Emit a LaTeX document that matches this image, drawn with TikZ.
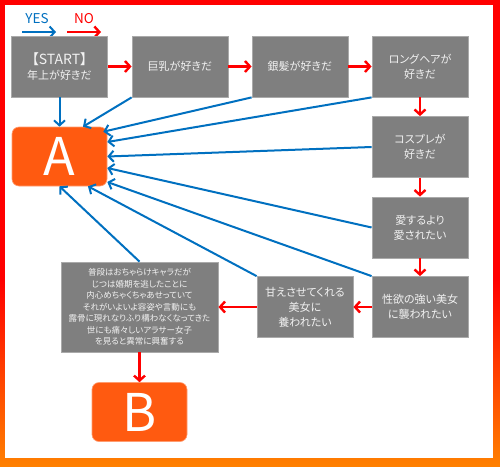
\documentclass[tikz,border=0pt]{standalone}
\usepackage{fontspec}
\setmainfont{Noto Sans CJK JP}[RawFeature=+palt]
\usetikzlibrary{arrows.meta}
\definecolor{boxgray}{RGB}{127,127,127}
\definecolor{boxedge}{RGB}{170,170,170}
\definecolor{boxtext}{RGB}{242,242,242}
\definecolor{yesblue}{RGB}{0,112,192}
\definecolor{nored}{RGB}{255,0,0}
\definecolor{endorange}{RGB}{255,90,16}
\definecolor{frameorange}{RGB}{255,128,0}
\pgfdeclareverticalshading{frameshade}{100bp}{color(0bp)=(frameorange); color(25bp)=(frameorange); color(45bp)=(nored); color(100bp)=(nored)}
\tikzstyle{question} = [draw=boxedge, line width=0.8pt, fill=boxgray, text=boxtext, minimum width=96pt, minimum height=61pt, inner sep=2pt, align=center, font=\fontsize{11}{15}\selectfont]
\tikzstyle{answer}   = [draw=endorange!60!white, line width=0.6pt, fill=endorange, rounded corners=7pt, minimum width=95pt, minimum height=59pt, text=white, font=\fontsize{52}{52}\selectfont]
\tikzstyle{yesedge}  = [line width=2pt, draw=yesblue, -{Straight Barb[length=5pt,width=11pt]}]
\tikzstyle{noedge}   = [line width=2.4pt, draw=nored, -{Straight Barb[length=5pt,width=11pt]}]

\begin{document}
\begin{tikzpicture}[x=1pt,y=-1pt]

\shade[shading=frameshade] (0,0) rectangle (500,466);
\fill[white] (5,5) rectangle (493,458);

\node[text=yesblue, font=\fontsize{13.5}{14}\selectfont] (yes) at (37,19) {YES};
\node[text=nored, font=\fontsize{13.5}{14}\selectfont] (no) at (84,19) {NO};
\coordinate (yesL) at (22,32);
\coordinate (yesR) at (56,32);
\coordinate (noL) at (67,32);
\coordinate (noR) at (101,32);
\draw[yesedge] (yesL) -- (yesR);
\draw[noedge] (noL) -- (noR);

\node[question] (Q1) at (59.5,66.5) {{\fontsize{14}{16}\selectfont【START】}\\年上が好きだ};
\node[question] (Q2) at (180,66.5) {巨乳が好きだ};
\node[question] (Q3) at (300,66.5) {銀髪が好きだ};
\node[question] (Q4) at (420,66.5) {ロングヘアが\\好きだ};
\node[question] (Q5) at (420,147) {コスプレが\\好きだ};
\node[question] (Q6) at (420,227.5) {愛するより\\愛されたい};
\node[question] (Q7) at (420,307) {性欲の強い美女\\に襲われたい};
\node[question] (Q8) at (305,307) {甘えさせてくれる\\美女に\\養われたい};
\node[question, minimum width=157pt, minimum height=90pt, font=\fontsize{8.5}{11.5}\selectfont] (Q9) at (139.5,307)
  {普段はおちゃらけキャラだが\\じつは婚期を逃したことに\\内心めちゃくちゃあせっていて\\それがいよいよ容姿や言動にも\\露骨に現れなりふり構わなくなってきた\\世にも痛々しいアラサー女子\\を見ると異常に興奮する};

\node[answer] (A) at (59.5,156.5) {A};
\node[answer] (B) at (139.5,412) {B};

\draw[noedge] (Q1) -- (Q2);
\draw[noedge] (Q2) -- (Q3);
\draw[noedge] (Q3) -- (Q4);
\draw[noedge] (Q4) -- (Q5);
\draw[noedge] (Q5) -- (Q6);
\draw[noedge] (Q6) -- (Q7);
\draw[noedge] (Q7) -- (Q8);
\draw[noedge] (Q8) -- (Q9);
\draw[noedge] (Q9) -- (B);

\draw[yesedge] (Q1) -- (A);
\draw[yesedge] (Q2.south west) -- ([xshift=23.5pt]A.north);
\draw[yesedge] (Q3.south west) -- ([xshift=-4pt,yshift=-5pt]A.north east);
\draw[yesedge] (Q4.south west) -- ([yshift=14.5pt]A.east);
\draw[yesedge] (Q5.west) -- (A.east);
\draw[yesedge] (Q6.west) -- ([yshift=-11.5pt]A.east);
\draw[yesedge] (Q7.north west) -- ([yshift=-25.5pt]A.east);
\draw[yesedge] (Q8.north west) -- ([xshift=28.5pt]A.south);
\draw[yesedge] (Q9.north) -- (A.south);

\end{tikzpicture}
\end{document}
